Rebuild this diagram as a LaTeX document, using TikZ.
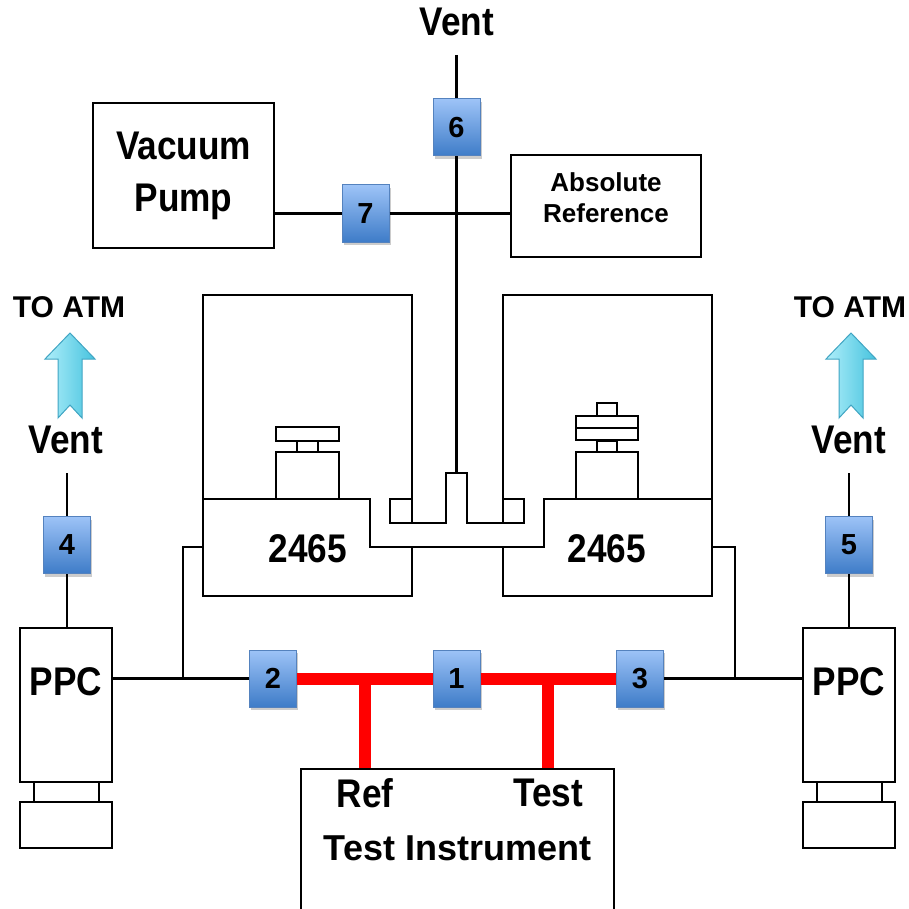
\documentclass[tikz,border=0pt]{standalone}
\usepackage{fontspec}
\setmainfont{Liberation Sans}
\newfontfamily\narrowsans[FakeStretch=0.88]{Liberation Sans}
\usetikzlibrary{shadows}
\definecolor{valvetop}{RGB}{157,195,247}
\definecolor{valvebot}{RGB}{62,124,200}
\definecolor{valveedge}{RGB}{84,130,190}
\definecolor{ventlight}{RGB}{175,238,250}
\definecolor{ventdark}{RGB}{70,195,222}
\definecolor{ventedge}{RGB}{65,165,195}

\begin{document}
\begin{tikzpicture}[x=1pt,y=1pt,yscale=-1,xscale=1,
  pipe/.style={line width=2.2pt},
  redpipe/.style={line width=12pt,red},
  box/.style={draw,line width=2.2pt,inner sep=0pt},
  valve/.style={draw=valveedge,line width=1pt,top color=valvetop,bottom color=valvebot,
    minimum width=47pt,minimum height=57pt,inner sep=0pt,font=\bfseries\fontsize{29}{30}\selectfont,
    drop shadow={shadow xshift=1.5pt,shadow yshift=-3pt,opacity=0.4}},
  bigtxt/.style={inner sep=0pt,font=\narrowsans\bfseries\fontsize{40}{52}\selectfont,align=center},
  atmtxt/.style={inner sep=0pt,font=\bfseries\fontsize{30}{30}\selectfont}]
\clip (0,0) rectangle (909,909);

%Valves
\node[valve] (v1) at (456.5,678.5) {1};
\node[valve] (v2) at (273,678.5) {2};
\node[valve] (v3) at (640,678.5) {3};
\node[valve] (v4) at (67,545) {4};
\node[valve] (v5) at (849,545) {5};
\node[valve] (v6) at (456.5,127.5) {6};
\node[valve] (v7) at (365.5,213.5) {7};

%Boxes
\node[box,bigtxt,minimum width=181pt,minimum height=145pt] (pump) at (183.5,175.5) {Vacuum\\Pump};
\node[box,minimum width=190pt,minimum height=102pt] (absref) at (606,206) {};
\node[box,minimum width=92pt,minimum height=154pt] (ppcL) at (66,705) {};
\node[box,minimum width=92pt,minimum height=154pt] (ppcR) at (849,705) {};
\node[box,minimum width=313pt,minimum height=200pt,anchor=north] (testinst) at (457.5,768) {};

% Text Node
\node[inner sep=0pt,align=center,font=\bfseries\fontsize{26}{31}\selectfont] (absreftxt) at (606,198) {Absolute\\Reference};
\node[bigtxt] (ppcLtxt) at (66,682) {PPC};
\node[bigtxt] (ppcRtxt) at (849,682) {PPC};
\node[bigtxt] (reftxt) at (365,793) {Ref};
\node[bigtxt] (testtxt) at (548,793) {Test};
\node[inner sep=0pt,font=\bfseries\fontsize{36}{36}\selectfont] (tinstxt) at (457.5,848) {Test Instrument};
\node[bigtxt] (dwlTxt) at (308,549) {2465};
\node[bigtxt] (dwrTxt) at (607,549) {2465};
\node[bigtxt] (ventL) at (66,440) {Vent};
\node[bigtxt] (ventR) at (849,440) {Vent};
\node[bigtxt] (ventT) at (457,22) {Vent};
\node[atmtxt] (atmL) at (69,307) {TO ATM};
\node[atmtxt] (atmR) at (850,307) {TO ATM};

%Free pipe ends
\coordinate (ventLend) at (67,473);
\coordinate (ventRend) at (849,473);
\coordinate (ventTend) at (456.5,55);
\coordinate (manTop) at (456.5,473);
\coordinate (dwlIn) at (203,547);
\coordinate (dwrIn) at (712,547);

%Shape: PPC bases
\foreach \cx in {66,849} {
  \draw[pipe] (\cx-32,782) rectangle (\cx+33,802);
  \draw[pipe] (\cx-46,802) rectangle (\cx+46,848);
}

%Shape: left 2465
\draw[pipe] (203,499) -- (203,295) -- (412,295) -- (412,523);
\draw[pipe] (203,499) -- (203,596) -- (412,596) -- (412,547);
\draw[pipe] (203,499) -- (370,499) -- (370,547) -- (544,547) -- (544,499) -- (712,499);
\draw[pipe] (276,452) rectangle (339,499);
\draw[pipe] (297,441) rectangle (318,452);
\draw[pipe] (276,427) rectangle (339,441);
%Shape: right 2465
\draw[pipe] (503,523) -- (503,295) -- (712,295) -- (712,596) -- (503,596) -- (503,547);
\draw[pipe] (576,452) rectangle (638,499);
\draw[pipe] (597,441) rectangle (617,452);
\draw[pipe] (576,428) rectangle (638,440);
\draw[pipe] (576,416) rectangle (638,428);
\draw[pipe] (597,403) rectangle (617,416);
%Shape: manifold
\draw[pipe] (412,523) -- (446,523) -- (446,473) -- (467,473) -- (467,523) -- (503,523);
\draw[pipe] (412,499) -- (390,499) -- (390,523) -- (412,523);
\draw[pipe] (503,499) -- (524,499) -- (524,523) -- (503,523);

%Shape: vent arrows
\foreach \cx in {70,851} {
  \shade[left color=ventlight,right color=ventdark,draw=ventedge,line width=1pt]
    (\cx,333) -- (\cx+25,359) -- (\cx+12,359) -- (\cx+12,418) -- (\cx,405)
    -- (\cx-12,418) -- (\cx-12,359) -- (\cx-25,359) -- cycle;
}

%Straight Lines
\draw[pipe] (ventTend) -- (v6.north);
\draw[pipe] (v6.south) -- (manTop);
\draw[pipe] (pump.east |- v7) -- (v7.west);
\draw[pipe] (v7.east) -- (absref.west |- v7);
\draw[pipe] (ventLend) -- (v4.north);
\draw[pipe] (v4.south) -- (ppcL.north -| v4);
\draw[pipe] (ventRend) -- (v5.north);
\draw[pipe] (v5.south) -- (ppcR.north -| v5);
\draw[pipe] (ppcL.east |- v2) -- (v2.west);
\draw[pipe] (dwlIn) -- ++(-20,0) |- (v2.west);
\draw[pipe] (v3.east) -- (ppcR.west |- v3);
\draw[pipe] (dwrIn) -- ++(23,0) |- (v3.east);
\draw[redpipe] (v2.east) -- (v1.west);
\draw[redpipe] (v1.east) -- (v3.west);
\draw[redpipe] (reftxt |- v1) -- (reftxt |- testinst.north);
\draw[redpipe] (testtxt |- v1) -- (testtxt |- testinst.north);

\end{tikzpicture}
\end{document}
